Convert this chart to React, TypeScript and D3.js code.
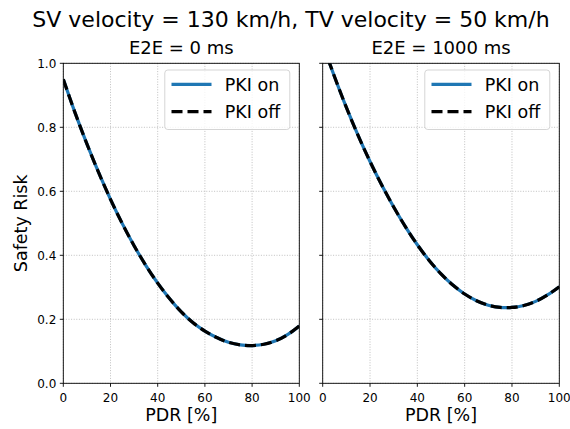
import React, { useEffect, useRef } from "react";
import * as d3 from "d3";

// PDR [%] sample points
const pdr = [0, 5, 10, 15, 20, 25, 30, 35, 40, 45, 50, 55, 60, 65, 70, 75, 80, 85, 90, 95, 100];

// E2E = 0 ms
const riskOn0 = [0.95, 0.845, 0.748, 0.658, 0.575, 0.499, 0.43, 0.368, 0.313, 0.265, 0.223, 0.189, 0.163, 0.143, 0.128, 0.12, 0.118, 0.122, 0.133, 0.152, 0.179];
const riskOff0 = riskOn0;

// E2E = 1000 ms
const riskOn1000 = [1.06, 0.958, 0.862, 0.774, 0.693, 0.619, 0.551, 0.489, 0.433, 0.384, 0.342, 0.307, 0.279, 0.258, 0.244, 0.237, 0.237, 0.243, 0.256, 0.276, 0.302];
const riskOff1000 = riskOn1000;

const panelTitles = ["E2E = 0 ms", "E2E = 1000 ms"];
const xTicks = [0, 20, 40, 60, 80, 100];
const yTicks = [0, 0.2, 0.4, 0.6, 0.8, 1.0];
const seriesNames = ["PKI on", "PKI off"];

export default function App() {
  const svgRef = useRef<SVGSVGElement>(null);

  useEffect(() => {
    document.body.style.margin = "0";
    const svg = d3.select(svgRef.current);
    svg.selectAll("*").remove();

    const width = 570, height = 429;
    const font = "DejaVu Sans, sans-serif";
    const top = 63.3, bottom = 383.3;
    const panels = [
      { x0: 63.3, x1: 299.3, on: riskOn0, off: riskOff0, title: panelTitles[0], labels: true },
      { x0: 322.7, x1: 559.3, on: riskOn1000, off: riskOff1000, title: panelTitles[1], labels: false },
    ];

    svg.append("rect").attr("width", width).attr("height", height).attr("fill", "#fff");

    svg.append("text").text("SV velocity = 130 km/h, TV velocity = 50 km/h")
      .attr("x", 291).attr("y", 27).attr("text-anchor", "middle")
      .attr("font-family", font).attr("font-size", 22).attr("fill", "#000");

    svg.append("text").text("Safety Risk")
      .attr("transform", `translate(27, ${(top + bottom) / 2}) rotate(-90)`)
      .attr("text-anchor", "middle").attr("font-family", font).attr("font-size", 17.5).attr("fill", "#000");

    const y = d3.scaleLinear().domain([0, 1]).range([bottom, top]);

    panels.forEach((p, i) => {
      const x = d3.scaleLinear().domain([0, 100]).range([p.x0, p.x1]);
      const g = svg.append("g");

      // Grid
      g.selectAll(".gx").data(xTicks).join("line")
        .attr("x1", (d) => x(d)).attr("x2", (d) => x(d)).attr("y1", top).attr("y2", bottom)
        .attr("stroke", "#b0b0b0").attr("stroke-width", 0.8).attr("stroke-dasharray", "1,1.6");
      g.selectAll(".gy").data(yTicks).join("line")
        .attr("x1", p.x0).attr("x2", p.x1).attr("y1", (d) => y(d)).attr("y2", (d) => y(d))
        .attr("stroke", "#b0b0b0").attr("stroke-width", 0.8).attr("stroke-dasharray", "1,1.6");

      // Lines
      const clipId = `clip${i}`;
      svg.append("clipPath").attr("id", clipId).append("rect")
        .attr("x", p.x0).attr("y", top).attr("width", p.x1 - p.x0).attr("height", bottom - top);
      const line = d3.line<number>().x((_, k) => x(pdr[k])).y((d) => y(d)).curve(d3.curveCatmullRom);
      g.append("path").datum(p.on).attr("d", line).attr("fill", "none")
        .attr("stroke", "#1f77b4").attr("stroke-width", 3.2).attr("clip-path", `url(#${clipId})`);
      g.append("path").datum(p.off).attr("d", line).attr("fill", "none")
        .attr("stroke", "#000").attr("stroke-width", 3.2).attr("stroke-dasharray", "11,5")
        .attr("clip-path", `url(#${clipId})`);

      // Frame
      g.append("rect").attr("x", p.x0).attr("y", top).attr("width", p.x1 - p.x0).attr("height", bottom - top)
        .attr("fill", "none").attr("stroke", "#000").attr("stroke-width", 0.9);

      // X ticks
      g.selectAll(".tx").data(xTicks).join("line")
        .attr("x1", (d) => x(d)).attr("x2", (d) => x(d)).attr("y1", bottom).attr("y2", bottom + 3.5)
        .attr("stroke", "#000").attr("stroke-width", 0.9);
      g.selectAll(".lx").data(xTicks).join("text").text((d) => d)
        .attr("x", (d) => x(d)).attr("y", 402).attr("text-anchor", "middle")
        .attr("font-family", font).attr("font-size", 12).attr("fill", "#000");

      // Y ticks
      g.selectAll(".ty").data(yTicks).join("line")
        .attr("x1", p.x0 - 3.5).attr("x2", p.x0).attr("y1", (d) => y(d)).attr("y2", (d) => y(d))
        .attr("stroke", "#000").attr("stroke-width", 0.9);
      if (p.labels) {
        g.selectAll(".ly").data(yTicks).join("text").text((d) => d3.format(".1f")(d))
          .attr("x", p.x0 - 7).attr("y", (d) => y(d) + 4.3).attr("text-anchor", "end")
          .attr("font-family", font).attr("font-size", 12).attr("fill", "#000");
      }

      // Titles
      g.append("text").text(p.title).attr("x", (p.x0 + p.x1) / 2).attr("y", 54)
        .attr("text-anchor", "middle").attr("font-family", font).attr("font-size", 18).attr("fill", "#000");
      g.append("text").text("PDR [%]").attr("x", (p.x0 + p.x1) / 2).attr("y", 421)
        .attr("text-anchor", "middle").attr("font-family", font).attr("font-size", 17.5).attr("fill", "#000");

      // Legend
      const lx = p.x1 - 134.5, ly = 70;
      const leg = g.append("g").attr("transform", `translate(${lx}, ${ly})`);
      leg.append("rect").attr("width", 125).attr("height", 59.5).attr("rx", 3)
        .attr("fill", "#fff").attr("fill-opacity", 0.8).attr("stroke", "#d0d0d0").attr("stroke-width", 0.9);
      seriesNames.forEach((name, k) => {
        const yy = 14.3 + k * 27.4;
        leg.append("line").attr("x1", 6.7).attr("x2", 46.7).attr("y1", yy).attr("y2", yy)
          .attr("stroke", k === 0 ? "#1f77b4" : "#000").attr("stroke-width", 3.2)
          .attr("stroke-dasharray", k === 0 ? null : "11,5");
        leg.append("text").text(name).attr("x", 60).attr("y", yy + 6.2)
          .attr("font-family", font).attr("font-size", 17.5).attr("fill", "#000");
      });
    });
  }, []);

  return <svg ref={svgRef} width={570} height={429} style={{ display: "block" }} />;
}
